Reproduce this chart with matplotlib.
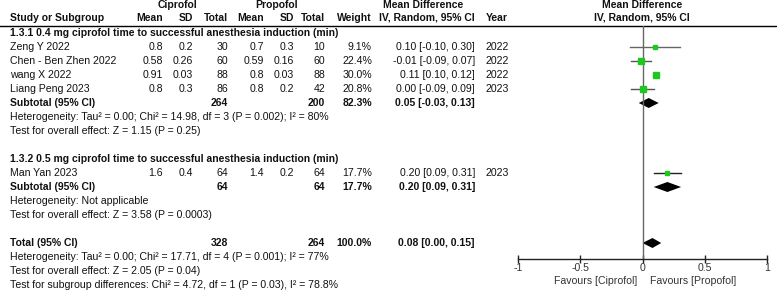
import numpy as np
import matplotlib.pyplot as plt

plt.rcParams["font.family"] = ["Liberation Sans", "DejaVu Sans"]
plt.rcParams["axes.unicode_minus"] = False

# ==============================================================================
# DATA
# ==============================================================================
studies    = ["Zeng Y 2022", "Chen - Ben Zhen 2022", "wang X 2022", "Liang Peng 2023", "Man Yan 2023"]
study_rows = [1, 2, 3, 4, 10]
c_mean  = ["0.8", "0.58", "0.91", "0.8", "1.6"]
c_sd    = ["0.2", "0.26", "0.03", "0.3", "0.4"]
c_n     = ["30", "60", "88", "86", "64"]
p_mean  = ["0.7", "0.59", "0.8", "0.8", "1.4"]
p_sd    = ["0.3", "0.16", "0.03", "0.2", "0.2"]
p_n     = ["10", "60", "88", "42", "64"]
weights = [9.1, 22.4, 30.0, 20.8, 17.7]
md      = [0.10, -0.01, 0.11, 0.00, 0.20]
lo      = [-0.10, -0.09, 0.10, -0.09, 0.09]
hi      = [0.30, 0.07, 0.12, 0.09, 0.31]
years   = ["2022", "2022", "2022", "2023", "2023"]

# pooled rows: subtotal 1, subtotal 2, total
pool_labels = ["Subtotal (95% CI)", "Subtotal (95% CI)", "Total (95% CI)"]
pool_rows   = [5, 11, 15]
pool_c_n    = ["264", "64", "328"]
pool_p_n    = ["200", "64", "264"]
pool_w      = ["82.3%", "17.7%", "100.0%"]
pool_md     = [0.05, 0.20, 0.08]
pool_lo     = [-0.03, 0.09, 0.00]
pool_hi     = [0.13, 0.31, 0.15]

group_labels = ["1.3.1 0.4 mg ciprofol time to successful anesthesia induction (min)",
                "1.3.2 0.5 mg ciprofol time to successful anesthesia induction (min)"]
group_rows   = [0, 9]

notes = [
    (6,  "Heterogeneity: Tau² = 0.00; Chi² = 14.98, df = 3 (P = 0.002); I² = 80%"),
    (7,  "Test for overall effect: Z = 1.15 (P = 0.25)"),
    (12, "Heterogeneity: Not applicable"),
    (13, "Test for overall effect: Z = 3.58 (P = 0.0003)"),
    (16, "Heterogeneity: Tau² = 0.00; Chi² = 17.71, df = 4 (P = 0.001); I² = 77%"),
    (17, "Test for overall effect: Z = 2.05 (P = 0.04)"),
    (18, "Test for subgroup differences: Chi² = 4.72, df = 1 (P = 0.03), I² = 78.8%"),
]

xticks      = [-1, -0.5, 0, 0.5, 1]
xticklabels = ["-1", "-0.5", "0", "0.5", "1"]

# ==============================================================================
# LAYOUT
# ==============================================================================
W, H = 777, 295
Y0, DY = 33, 14          # pixel y of row 0, row spacing
FS, FSB = 7.6, 7.45
TXT = "#111111"

def ry(r):
    return Y0 + DY * r

def fmt(m, l, h):
    return f"{m:.2f} [{l:.2f}, {h:.2f}]"

fig = plt.figure(figsize=(W / 100, H / 100), dpi=100)
tab = fig.add_axes([0, 0, 1, 1])
tab.set_xlim(0, W)
tab.set_ylim(H, 0)
tab.axis("off")

col_x = {"cm": 163, "cs": 193, "cn": 228, "pm": 264, "ps": 294, "pn": 325,
         "w": 372, "md": 475, "yr": 486}

def t(x, y, s, ha="left", bold=False):
    tab.text(x, y, s, ha=ha, va="center", fontsize=FSB if bold else FS, color=TXT,
             fontweight="bold" if bold else "normal")

# headers
t(177, 5, "Ciprofol", "center", True)
t(277, 5, "Propofol", "center", True)
t(423, 5, "Mean Difference", "center", True)
t(642, 5, "Mean Difference", "center", True)
t(10, 18, "Study or Subgroup", bold=True)
for key, lab in [("cm", "Mean"), ("cs", "SD"), ("cn", "Total"), ("pm", "Mean"),
                 ("ps", "SD"), ("pn", "Total"), ("w", "Weight"),
                 ("md", "IV, Random, 95% CI")]:
    t(col_x[key], 18, lab, "right", True)
t(col_x["yr"], 18, "Year", bold=True)
t(642, 18, "IV, Random, 95% CI", "center", True)
tab.plot([0, W], [25.5, 25.5], color="black", lw=1)

for r, lab in zip(group_rows, group_labels):
    t(10, ry(r), lab, bold=True)

for i, name in enumerate(studies):
    y = ry(study_rows[i])
    t(10, y, name)
    t(col_x["cm"], y, c_mean[i], "right")
    t(col_x["cs"], y, c_sd[i], "right")
    t(col_x["cn"], y, c_n[i], "right")
    t(col_x["pm"], y, p_mean[i], "right")
    t(col_x["ps"], y, p_sd[i], "right")
    t(col_x["pn"], y, p_n[i], "right")
    t(col_x["w"], y, f"{weights[i]:.1f}%", "right")
    t(col_x["md"], y, fmt(md[i], lo[i], hi[i]), "right")
    t(col_x["yr"], y, years[i])

for i, lab in enumerate(pool_labels):
    y = ry(pool_rows[i])
    t(10, y, lab, bold=True)
    t(col_x["cn"], y, pool_c_n[i], "right", True)
    t(col_x["pn"], y, pool_p_n[i], "right", True)
    t(col_x["w"], y, pool_w[i], "right", True)
    t(col_x["md"], y, fmt(pool_md[i], pool_lo[i], pool_hi[i]), "right", True)

for r, s in notes:
    t(10, ry(r), s)

# ==============================================================================
# FOREST PANEL
# ==============================================================================
px_l, px_r = 518, 767
px_top, px_axis = 26, 259
ax = fig.add_axes([px_l / W, 1 - px_axis / H, (px_r - px_l) / W, (px_axis - px_top) / H])
ax.set_xlim(-1, 1)
ax.set_ylim((px_axis - Y0) / DY, (px_top - Y0) / DY)
ax.patch.set_alpha(0)
for s in ["top", "left", "right"]:
    ax.spines[s].set_visible(False)
ax.spines["bottom"].set_color("#222222")
ax.spines["bottom"].set_linewidth(1)
ax.set_yticks([])
ax.set_xticks(xticks)
ax.set_xticklabels(xticklabels, fontsize=FS, color="#333333")
ax.tick_params(axis="x", direction="inout", length=6, width=1, color="#222222", pad=0)
ax.axvline(0, color="#666666", lw=1)

ci_colors = ["#666666", "#555555", "#555555", "#555555", "#222222"]
for i in range(len(studies)):
    r = study_rows[i]
    ax.plot([lo[i], hi[i]], [r, r], color=ci_colors[i], lw=1)
    ax.plot(md[i], r, marker="s", ms=0.8 * np.sqrt(weights[i]), color="#1ec81e",
            mec="#1ec81e")

dh = 5 / DY
for i in range(len(pool_rows)):
    r = pool_rows[i]
    ax.fill([pool_lo[i], pool_md[i], pool_hi[i], pool_md[i]],
            [r, r - dh, r, r + dh], color="black", lw=0)

fig.text(637 / W, 1 - 281 / H, "Favours [Ciprofol]", ha="right", va="center",
         fontsize=FS, color="#333333")
fig.text(650 / W, 1 - 281 / H, "Favours [Propofol]", ha="left", va="center",
         fontsize=FS, color="#333333")

fig.savefig("out.png", dpi=100)
